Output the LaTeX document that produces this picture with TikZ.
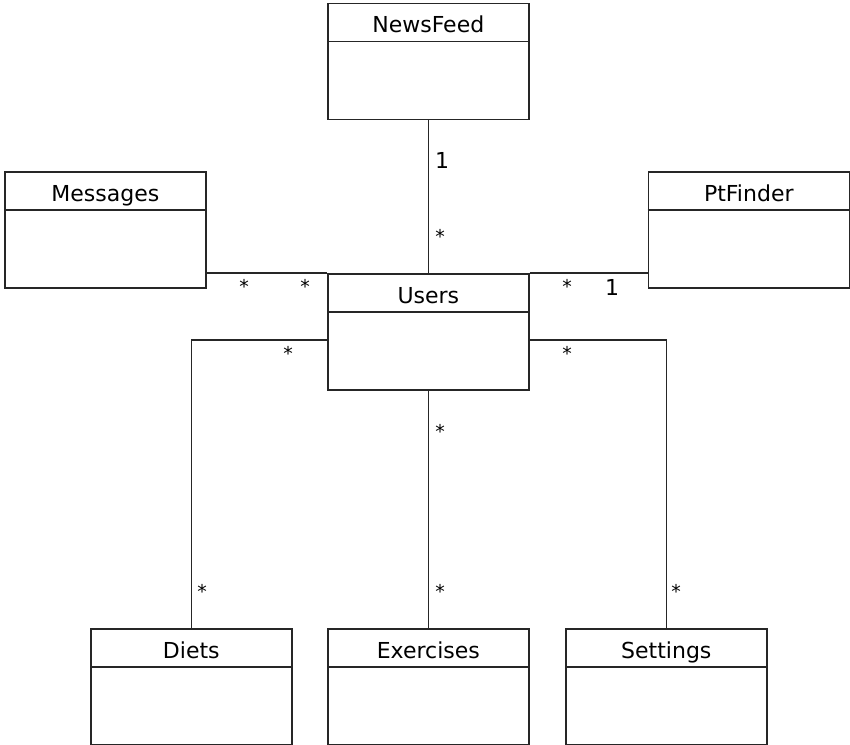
\documentclass[tikz,border=0pt]{standalone}
\usepackage{fontspec}
\setmainfont{DejaVu Sans}
\usetikzlibrary{positioning, calc}

\tikzset{
  classbox/.style={draw=black!85, line width=1.6pt, minimum width=201pt, minimum height=116pt, inner sep=0pt, anchor=north west},
  classname/.style={font=\fontsize{22}{22}\selectfont, anchor=base, inner sep=0pt},
  assoc/.style={draw=black!85, line width=1.6pt},
  mult/.style={font=\fontsize{19}{19}\selectfont, anchor=base, inner sep=0pt},
  multone/.style={font=\fontsize{22}{22}\selectfont, anchor=base, inner sep=0pt},
}

\begin{document}
\begin{tikzpicture}[x=1pt, y=-1pt]
\useasboundingbox (0,0) rectangle (850,744);

% Classes
\foreach \id/\cname/\x/\y in {news/NewsFeed/327/2.5, msg/Messages/4/171, pt/PtFinder/647.5/171,
    users/Users/327/273, diets/Diets/90/628, ex/Exercises/327/628, settings/Settings/565/628}{
  \node[classbox] (\id) at (\x,\y) {};
  \draw[assoc] ($(\id.north west)+(0,39)$) -- ($(\id.north east)+(0,39)$);
  \node[classname] (\id-name) at ($(\id.north)+(0,30)$) {\cname};
}

% Associations
\coordinate (users-l) at ($(users.north west)+(0,67)$);
\coordinate (users-r) at ($(users.north east)+(0,67)$);
\draw[assoc] (news.south) -- (users.north);
\draw[assoc] (msg.east |- users.north) -- (users.north west);
\draw[assoc] (users.north east) -- (users.north east -| pt.west);
\draw[assoc] (users-l) -| (diets.north);
\draw[assoc] (users-r) -| (settings.north);
\draw[assoc] (users.south) -- (ex.north);

% Multiplicities
\node[multone] (m-news) at (442,168) {1};
\node[mult] (m-news-u) at (440,243.5) {*};
\node[mult] (m-msg) at (244,293.5) {*};
\node[mult] (m-msg-u) at (305,293.5) {*};
\node[mult] (m-pt-u) at (567,293.5) {*};
\node[multone] (m-pt) at (612,295) {1};
\node[mult] (m-diets-u) at (288,360.5) {*};
\node[mult] (m-set-u) at (567,360.5) {*};
\node[mult] (m-ex-u) at (440,438.5) {*};
\node[mult] (m-ex) at (440,598.5) {*};
\node[mult] (m-diets) at (202,598.5) {*};
\node[mult] (m-set) at (676,598.5) {*};
\end{tikzpicture}
\end{document}
